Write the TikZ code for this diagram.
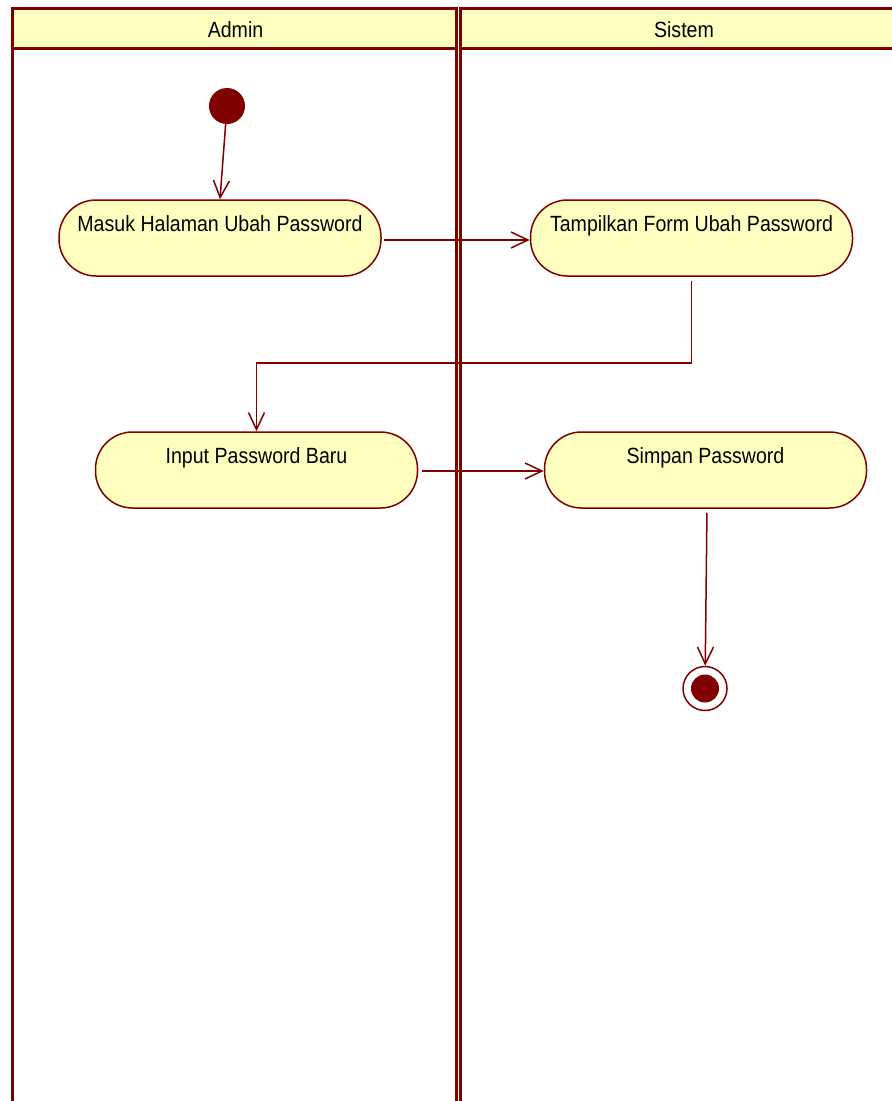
\documentclass[tikz,border=0pt]{standalone}
\usepackage{fontspec}
\setmainfont{Liberation Sans}[FakeStretch=0.89]
\usetikzlibrary{arrows.meta}
\definecolor{umlred}{HTML}{800000}
\definecolor{umlfill}{HTML}{FFFFC0}
\tikzset{
  action/.style={draw=umlred, fill=umlfill, line width=1.5pt, rounded corners=37pt,
    minimum width=322pt, minimum height=76pt, text height=16pt, text depth=30pt,
    font=\fontsize{22}{26}\selectfont},
  flow/.style={draw=umlred, line width=1.5pt,
    -{Straight Barb[length=17pt,width=16pt,line width=1.5pt]}},
  lane/.style={draw=umlred, line width=3pt},
  lanetitle/.style={font=\fontsize{22}{26}\selectfont}
}

\begin{document}
\begin{tikzpicture}[x=1pt,y=-1pt]
	\clip (0,0) rectangle (892,1101);
	\fill[white] (0,0) rectangle (892,1101);
	
	% lanes
	\fill[umlfill] (12.5,8) rectangle (456.5,48);
	\fill[umlfill] (460.5,8) rectangle (910,48);
	\draw[lane] (12.5,1110) -- (12.5,8) -- (456.5,8) -- (456.5,1110);
	\draw[lane] (460.5,1110) -- (460.5,8) -- (910,8);
	\draw[lane] (12.5,48) -- (456.5,48);
	\draw[lane] (460.5,48) -- (910,48);
	\node[lanetitle] (admin) at (235.5,30) {Admin};
	\node[lanetitle] (sistem) at (684,30) {Sistem};
	
	% start and end
	\node[circle, fill=umlred, minimum size=36pt, inner sep=0pt] (start) at (227,106) {};
	\node[circle, draw=umlred, line width=1.5pt, minimum size=44pt, inner sep=0pt] (stop) at (705,688.5) {};
	\fill[umlred] (stop.center) circle (14pt);
	
	% actions
	\node[action] (masuk) at (220,238) {Masuk Halaman Ubah Password};
	\node[action] (tampil) at (691.5,238) {Tampilkan Form Ubah Password};
	\node[action] (input) at (256.5,470) {Input Password Baru};
	\node[action] (simpan) at (705.5,470) {Simpan Password};
	
	% flows
	\draw[flow] (start) -- (masuk.north);
	\draw[flow, shorten <=2pt] ([yshift=-2pt]masuk.east) -- ([yshift=-2pt]tampil.west);
	\draw[flow, shorten <=4pt] (tampil.south) -- ++(0,86) -| (input.north);
	\draw[flow, shorten <=4pt] ([yshift=-1pt]input.east) -- ([yshift=-1pt]simpan.west);
	\draw[flow, shorten <=4pt] ([xshift=1.5pt]simpan.south) -- (stop);
\end{tikzpicture}
\end{document}
